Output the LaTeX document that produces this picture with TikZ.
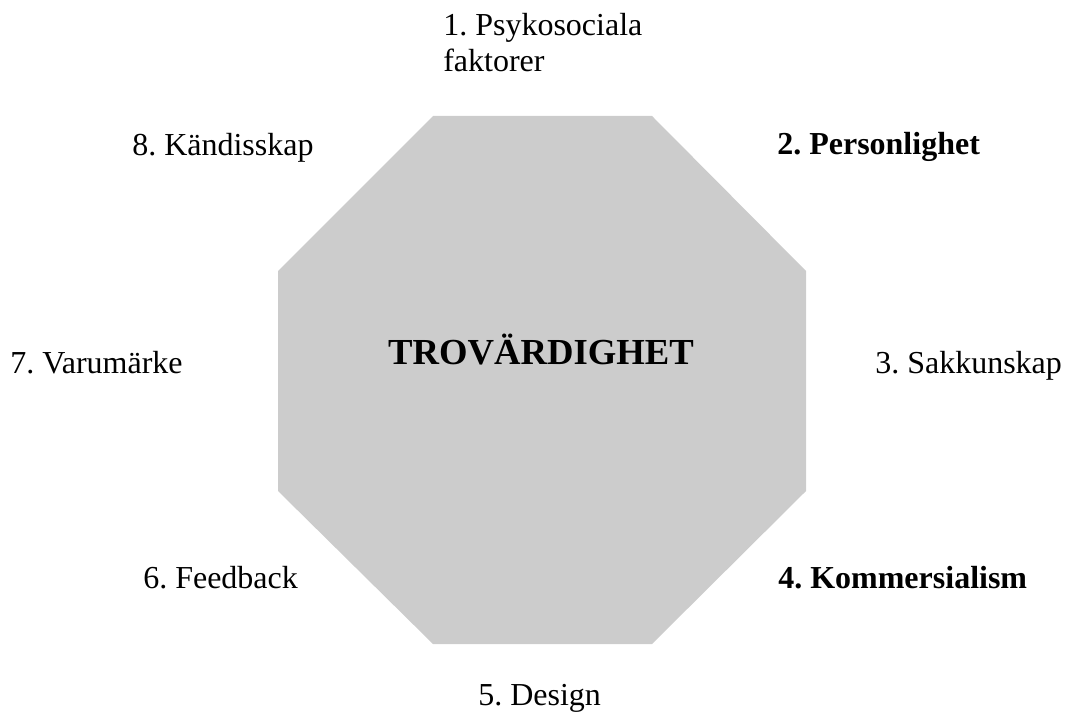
\documentclass[tikz,border=0pt]{standalone}
\usepackage{fontspec}
\setmainfont{Liberation Serif}
\frenchspacing
\definecolor{octfill}{HTML}{CCCCCC}
\begin{document}
\begin{tikzpicture}[x=0.75pt,y=-0.75pt,
  lbl/.style={anchor=base west,inner sep=0pt,font=\fontsize{24}{27}\selectfont,align=left},
  blbl/.style={lbl,font=\fontsize{24}{27}\selectfont\bfseries},
  title/.style={anchor=base,inner sep=0pt,font=\fontsize{27.5}{30}\selectfont\bfseries}]
\useasboundingbox (0,0) rectangle (1069,716);
\fill[octfill] (433,116) -- (652,116) -- (806,271) -- (806,491) -- (652,644) -- (433,644) -- (278,491) -- (278,271) -- cycle;
\node[title] (t) at (541,364) {TROVÄRDIGHET};
\node[lbl] (l1) at (443,72) {1. Psykosociala\\faktorer};
\node[blbl] (l2) at (777,155) {2. Personlighet};
\node[lbl] (l3) at (875,373) {3. Sakkunskap};
\node[blbl] (l4) at (778,588) {4. Kommersialism};
\node[lbl] (l5) at (478,705) {5. Design};
\node[lbl] (l6) at (143,588) {6. Feedback};
\node[lbl] (l7) at (10,373) {7. Varumärke};
\node[lbl] (l8) at (132,156) {8. Kändisskap};
\end{tikzpicture}
\end{document}
